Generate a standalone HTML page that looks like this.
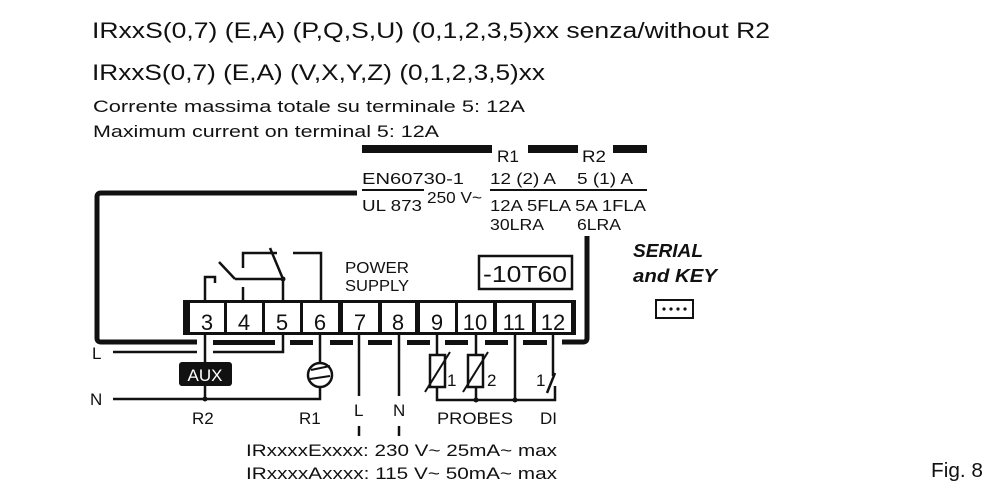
<!DOCTYPE html>
<html><head><style>
body{margin:0;background:#fff;width:1000px;height:497px;overflow:hidden}
svg text{font-family:"Liberation Sans",sans-serif;fill:#111}
</style></head><body>
<svg width="1000" height="497" viewBox="0 0 1000 497" xmlns="http://www.w3.org/2000/svg">
<g font-size="22">
<text x="92" y="38" textLength="678" lengthAdjust="spacingAndGlyphs">IRxxS(0,7) (E,A) (P,Q,S,U) (0,1,2,3,5)xx senza/without R2</text>
<text x="92" y="80" textLength="453" lengthAdjust="spacingAndGlyphs">IRxxS(0,7) (E,A) (V,X,Y,Z) (0,1,2,3,5)xx</text>
</g>
<g font-size="17">
<text x="93" y="112" textLength="432" lengthAdjust="spacingAndGlyphs">Corrente massima totale su terminale 5: 12A</text>
<text x="93" y="137" textLength="346" lengthAdjust="spacingAndGlyphs">Maximum current on terminal 5: 12A</text>
</g>
<g fill="#111">
<rect x="362" y="145" width="130" height="8"/>
<rect x="528" y="145" width="50" height="8"/>
<rect x="613" y="145" width="34" height="8"/>
</g>
<g font-size="17">
<text x="497" y="162" textLength="22" lengthAdjust="spacingAndGlyphs">R1</text><text x="582" y="162" textLength="24" lengthAdjust="spacingAndGlyphs">R2</text>
</g>
<g font-size="16">
<text x="362" y="184" textLength="102" lengthAdjust="spacingAndGlyphs">EN60730-1</text>
<text x="362" y="211" textLength="60" lengthAdjust="spacingAndGlyphs">UL 873</text>
<text x="427" y="203" textLength="55" lengthAdjust="spacingAndGlyphs">250 V~</text>
<text x="490" y="184" textLength="66" lengthAdjust="spacingAndGlyphs">12 (2) A</text>
<text x="577" y="184" textLength="56" lengthAdjust="spacingAndGlyphs">5 (1) A</text>
<text x="490" y="211" textLength="156" lengthAdjust="spacingAndGlyphs">12A 5FLA 5A 1FLA</text>
<text x="490" y="230" textLength="54" lengthAdjust="spacingAndGlyphs">30LRA</text>
<text x="577" y="230" textLength="44" lengthAdjust="spacingAndGlyphs">6LRA</text>
</g>
<g stroke="#111" fill="none">
<line x1="362" y1="190" x2="424" y2="190" stroke-width="2"/>
<line x1="490" y1="190" x2="647" y2="190" stroke-width="2"/>
<path d="M357 193 H101 Q97 193 97 197 V338 Q97 342 101 342 H197" stroke-width="5"/>
<line x1="340" y1="193" x2="357" y2="193" stroke-width="5"/>
<path d="M587 236 V338 Q587 342 583 342 H562" stroke-width="5"/>
</g>
<g fill="#111">
<rect x="213" y="340" width="62" height="5"/>
<rect x="290" y="340" width="23" height="5"/>
<rect x="330" y="340" width="23" height="5"/>
<rect x="368" y="340" width="24" height="5"/>
<rect x="407" y="340" width="23" height="5"/>
<rect x="445" y="340" width="23" height="5"/>
<rect x="485" y="340" width="23" height="5"/>
<rect x="523" y="340" width="24" height="5"/>
</g>
<rect x="183" y="300" width="393" height="35" fill="#111"/>
<g fill="#fff">
<rect x="190" y="303" width="34" height="29"/><rect x="227" y="303" width="35" height="29"/>
<rect x="265" y="303" width="35" height="29"/><rect x="303" y="303" width="35" height="29"/>
<rect x="343" y="303" width="35" height="29"/><rect x="382" y="303" width="33" height="29"/>
<rect x="420" y="303" width="35" height="29"/><rect x="458" y="303" width="35" height="29"/>
<rect x="497" y="303" width="35" height="29"/><rect x="536" y="303" width="35" height="29"/>
</g>
<g font-size="22" text-anchor="middle">
<text x="207" y="330">3</text><text x="244" y="330">4</text><text x="282" y="330">5</text><text x="320" y="330">6</text>
<text x="360" y="330">7</text><text x="398" y="330">8</text><text x="437" y="330">9</text><text x="475" y="330">10</text>
<text x="514" y="330">11</text><text x="553" y="330">12</text>
</g>
<g stroke="#111" stroke-width="2.5" fill="none">
<path d="M205 301 V277 H215 V283"/>
<line x1="219" y1="262" x2="235" y2="279"/>
<path d="M235 279 H283 V301"/>
<line x1="283" y1="279" x2="270" y2="248"/>
<path d="M243 268 V253 H277"/>
<line x1="243" y1="287" x2="243" y2="301"/>
<path d="M293 253 H321 V301"/>
</g>
<circle cx="283" cy="279" r="2.5" fill="#111"/>
<g font-size="16"><text x="345" y="273" textLength="64" lengthAdjust="spacingAndGlyphs">POWER</text><text x="345" y="291" textLength="64" lengthAdjust="spacingAndGlyphs">SUPPLY</text></g>
<rect x="479" y="256" width="93" height="33" fill="none" stroke="#111" stroke-width="2.5"/>
<text x="525" y="282" font-size="23" text-anchor="middle" textLength="84" lengthAdjust="spacingAndGlyphs">-10T60</text>
<g font-size="18" font-weight="bold" font-style="italic"><text x="633" y="257" textLength="70" lengthAdjust="spacingAndGlyphs">SERIAL</text><text x="633" y="282" textLength="84" lengthAdjust="spacingAndGlyphs">and KEY</text></g>
<rect x="656" y="300" width="37" height="18" fill="none" stroke="#111" stroke-width="2"/>
<g fill="#111"><circle cx="664" cy="309" r="1.6"/><circle cx="671" cy="309" r="1.6"/><circle cx="678" cy="309" r="1.6"/><circle cx="685" cy="309" r="1.6"/></g>
<g stroke="#111" stroke-width="2.5" fill="none">
<line x1="113" y1="352" x2="197" y2="352"/>
<path d="M213 352 H283 V334"/>
<line x1="205" y1="334" x2="205" y2="364"/>
<path d="M113 399 H320 V388"/>
<line x1="205" y1="385" x2="205" y2="399"/>
<line x1="320" y1="334" x2="320" y2="362"/>
<circle cx="320" cy="375" r="12"/>
<line x1="359" y1="334" x2="359" y2="396"/>
<line x1="399" y1="334" x2="399" y2="396"/>
<line x1="359" y1="426" x2="359" y2="436"/>
<line x1="399" y1="426" x2="399" y2="436"/>
<line x1="437" y1="334" x2="437" y2="355"/>
<rect x="430" y="355" width="15" height="32"/>
<line x1="476" y1="334" x2="476" y2="355"/>
<rect x="468" y="355" width="15" height="32"/>
<path d="M437 387 V400 H555 V386"/>
<line x1="476" y1="387" x2="476" y2="400"/>
<line x1="515" y1="334" x2="515" y2="400"/>
<line x1="553" y1="334" x2="553" y2="376"/>
<line x1="547" y1="393" x2="555" y2="373"/>
</g>
<g stroke="#111" stroke-width="2"><line x1="425" y1="392" x2="450" y2="352"/><line x1="463" y1="392" x2="488" y2="352"/>
<line x1="311" y1="370" x2="330" y2="366"/><line x1="310" y1="379" x2="330" y2="376"/></g>
<g fill="#111"><circle cx="205" cy="399" r="2.5"/><circle cx="476" cy="400" r="2.5"/><circle cx="515" cy="400" r="2.5"/></g>
<rect x="179" y="362" width="53" height="24" rx="3" fill="#111"/>
<text x="205" y="381" font-size="17" text-anchor="middle" style="fill:#fff">AUX</text>
<g font-size="17">
<text x="92" y="359">L</text><text x="90" y="405">N</text>
<text x="192" y="424">R2</text><text x="299" y="424">R1</text>
<text x="354" y="416">L</text><text x="393" y="416">N</text>
<text x="447" y="386">1</text><text x="487" y="386">2</text><text x="536" y="386">1</text>
<text x="437" y="424" textLength="76" lengthAdjust="spacingAndGlyphs">PROBES</text><text x="540" y="424">DI</text>
<text x="246" y="456" textLength="311" lengthAdjust="spacingAndGlyphs">IRxxxxExxxx: 230 V~ 25mA~ max</text>
<text x="246" y="479" textLength="311" lengthAdjust="spacingAndGlyphs">IRxxxxAxxxx: 115 V~ 50mA~ max</text>
</g>
<text x="931" y="477" font-size="20" textLength="52" lengthAdjust="spacingAndGlyphs">Fig. 8</text>
</svg>
</body></html>
